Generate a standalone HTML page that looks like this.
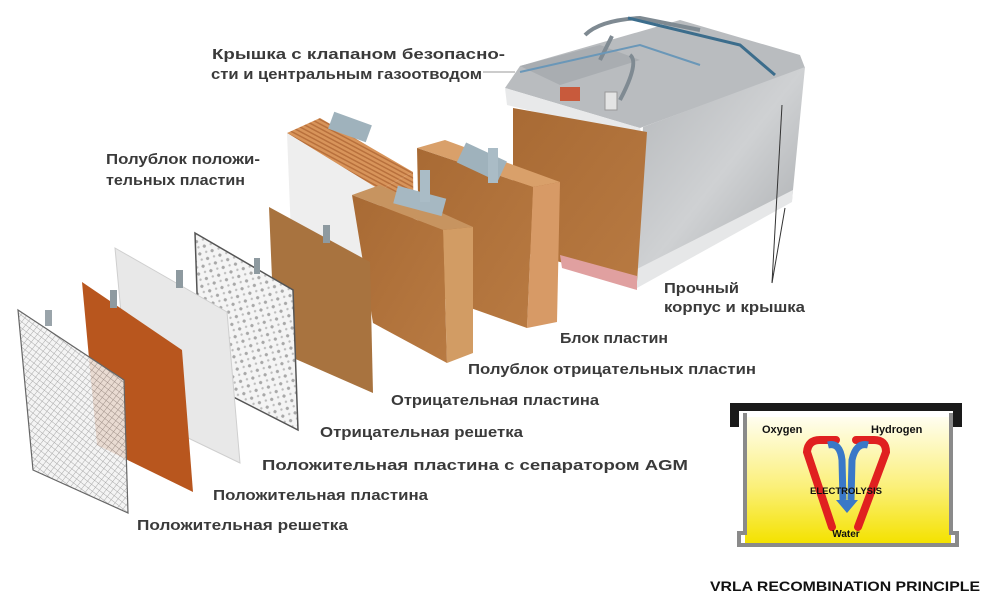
<!DOCTYPE html>
<html><head><meta charset="utf-8"><style>
html,body{margin:0;padding:0;background:#fff;}
svg{display:block;}
.t{font-family:"Liberation Sans","DejaVu Sans",sans-serif;font-weight:bold;font-size:15px;fill:#3a3a3a;}
</style></head><body>
<svg width="991" height="602" viewBox="0 0 991 602" xmlns="http://www.w3.org/2000/svg">
<defs>
<pattern id="grid" width="5" height="5" patternUnits="userSpaceOnUse" patternTransform="rotate(38)">
<rect width="5" height="5" fill="#f2f2f2"/><path d="M0 0H5M0 0V5" stroke="#9a9a9a" stroke-width="1"/>
</pattern>
<pattern id="dots" width="9" height="9" patternUnits="userSpaceOnUse" patternTransform="rotate(30)">
<rect width="9" height="9" fill="#f4f4f4"/><circle cx="3" cy="3" r="1.6" fill="#a8a8a8"/><circle cx="7.5" cy="7" r="1.2" fill="#bdbdbd"/>
</pattern>
<pattern id="stripe" width="4" height="4" patternUnits="userSpaceOnUse" patternTransform="rotate(-62)">
<rect width="4" height="4" fill="#d8945a"/><rect width="1.5" height="4" fill="#b8703c"/>
</pattern>
<linearGradient id="case" x1="0" y1="0" x2="1" y2="1">
<stop offset="0" stop-color="#b4b7ba"/><stop offset="0.5" stop-color="#cfd1d3"/><stop offset="1" stop-color="#a3a6a9"/>
</linearGradient>
<linearGradient id="brown" x1="0" y1="0" x2="1" y2="1">
<stop offset="0" stop-color="#a86a34"/><stop offset="1" stop-color="#b87a42"/>
</linearGradient>
<linearGradient id="yel" x1="0" y1="0" x2="0" y2="1">
<stop offset="0" stop-color="#fffef0"/><stop offset="0.55" stop-color="#fbf07a"/><stop offset="1" stop-color="#f4e200"/>
</linearGradient>
</defs>

<!-- battery case -->
<polygon points="505,88 520,66 680,20 800,55 805,68 640,128" fill="#b9bcbf"/>
<polygon points="520,66 600,45 640,60 560,85" fill="#a9adb1"/>
<polygon points="643,127 805,67 792,200 635,285" fill="url(#case)"/>
<polygon points="635,270 793,190 792,202 637,288" fill="#e6e7e8"/>
<polygon points="505,88 640,128 643,138 507,105" fill="#e8e9ea"/>
<polygon points="513,108 647,132 637,282 560,262 513,250" fill="url(#brown)"/>
<polygon points="560,255 637,276 637,290 562,268" fill="#e0a0a0"/>
<path d="M585,35 Q600,20 640,18 L700,30 M600,60 L612,36 M630,55 Q640,62 620,100" stroke="#7f8a92" stroke-width="4" fill="none"/>
<path d="M628,18 L740,45 L775,75" stroke="#3c6d8c" stroke-width="3" fill="none"/>
<path d="M520,72 L640,45 L700,65" stroke="#6a97b8" stroke-width="2" fill="none"/>
<rect x="560" y="87" width="20" height="14" fill="#c85a3c"/>
<rect x="605" y="92" width="12" height="18" fill="#e4e4e4" stroke="#999" stroke-width="1"/>
<line x1="772" y1="283" x2="782" y2="105" stroke="#333" stroke-width="1"/>
<line x1="772" y1="283" x2="785" y2="208" stroke="#333" stroke-width="1"/>
<line x1="483" y1="72" x2="515" y2="72" stroke="#9a9a9a" stroke-width="1"/>

<!-- block plates -->
<polygon points="417,148 445,140 560,182 533,187" fill="#d9a06a"/>
<polygon points="533,187 560,182 557,322 527,328" fill="#d79a66"/>
<polygon points="417,148 533,187 527,328 420,290" fill="url(#brown)"/>
<rect x="460" y="150" width="45" height="22" fill="#9fb2bc" transform="rotate(25 480 160)"/>
<rect x="488" y="148" width="10" height="35" fill="#aabcc6"/>

<!-- positive half block -->
<polygon points="287,133 320,118 413,172 380,190" fill="url(#stripe)"/>
<polygon points="380,190 413,172 415,300 383,320" fill="url(#stripe)"/>
<polygon points="287,133 380,190 383,320 292,260" fill="#eeeeee"/>
<rect x="330" y="118" width="40" height="18" fill="#9fb2bc" transform="rotate(20 350 127)"/>

<!-- negative half block -->
<polygon points="352,195 380,185 473,227 443,230" fill="#c79460"/>
<polygon points="443,230 473,227 473,353 447,363" fill="#d29c64"/>
<polygon points="352,195 443,230 447,363 373,323" fill="url(#brown)"/>
<rect x="395" y="192" width="50" height="18" fill="#a6b8c2" transform="rotate(15 420 200)"/>
<rect x="420" y="170" width="10" height="32" fill="#aabcc6"/>

<!-- negative plate -->
<polygon points="269,207 370,262 373,393 275,350" fill="#a8733f"/>
<rect x="323" y="225" width="7" height="18" fill="#8e9aa0"/>
<!-- negative grid -->
<polygon points="195,233 293,290 298,430 200,380" fill="url(#dots)" stroke="#555" stroke-width="1.5"/>
<rect x="254" y="258" width="6" height="16" fill="#8e9aa0"/>
<!-- AGM separator plate -->
<polygon points="115,248 227,312 240,463 130,410" fill="#e8e8e8" stroke="#cfcfcf"/>
<rect x="176" y="270" width="7" height="18" fill="#8e9aa0"/>
<!-- positive plate -->
<polygon points="82,282 182,350 193,492 97,445" fill="#b8561e"/>
<rect x="110" y="290" width="7" height="18" fill="#8e9aa0"/>
<!-- positive grid -->
<polygon points="18,310 124,380 128,513 33,470" fill="url(#grid)" stroke="#666" stroke-width="1.2" fill-opacity="0.85"/>
<rect x="45" y="310" width="7" height="16" fill="#9aa4aa"/>

<!-- labels -->
<text class="t" x="212" y="59" textLength="293" lengthAdjust="spacingAndGlyphs">Крышка с клапаном безопасно-</text>
<text class="t" x="211" y="79" textLength="271" lengthAdjust="spacingAndGlyphs">сти и центральным газоотводом</text>
<text class="t" x="106" y="164" textLength="154" lengthAdjust="spacingAndGlyphs">Полублок положи-</text>
<text class="t" x="106" y="185" textLength="139" lengthAdjust="spacingAndGlyphs">тельных пластин</text>
<text class="t" x="664" y="293" textLength="75" lengthAdjust="spacingAndGlyphs">Прочный</text>
<text class="t" x="664" y="312" textLength="141" lengthAdjust="spacingAndGlyphs">корпус и крышка</text>
<text class="t" x="560" y="343" textLength="108" lengthAdjust="spacingAndGlyphs">Блок пластин</text>
<text class="t" x="468" y="374" textLength="288" lengthAdjust="spacingAndGlyphs">Полублок отрицательных пластин</text>
<text class="t" x="391" y="405" textLength="208" lengthAdjust="spacingAndGlyphs">Отрицательная пластина</text>
<text class="t" x="320" y="437" textLength="203" lengthAdjust="spacingAndGlyphs">Отрицательная решетка</text>
<text class="t" x="262" y="470" textLength="426" lengthAdjust="spacingAndGlyphs">Положительная пластина с сепаратором AGM</text>
<text class="t" x="213" y="500" textLength="215" lengthAdjust="spacingAndGlyphs">Положительная пластина</text>
<text class="t" x="137" y="530" textLength="211" lengthAdjust="spacingAndGlyphs">Положительная решетка</text>

<!-- VRLA diagram -->
<rect x="745" y="417" width="206" height="126" fill="url(#yel)"/>
<path d="M745,413 V533 H739 V545 H957 V533 H951 V413" fill="none" stroke="#8a8a8a" stroke-width="4"/>
<path d="M730,403 H962 V427 H953 V411 H739 V427 H730 Z" fill="#1a1a1a"/>
<path d="M832,527 L807,452 Q808,440 820,440 L836,440" fill="none" stroke="#e02020" stroke-width="8" stroke-linecap="round"/>
<path d="M858,527 L886,452 Q886,440 874,440 L856,440" fill="none" stroke="#e02020" stroke-width="8" stroke-linecap="round"/>
<path d="M828,445 Q840,442 842,460 L843,500" fill="none" stroke="#3a78c8" stroke-width="7"/>
<path d="M868,445 Q856,442 852,460 L851,500" fill="none" stroke="#3a78c8" stroke-width="7"/>
<polygon points="836,500 858,500 847,513" fill="#3a78c8"/>
<text x="762" y="433" style="font-family:'Liberation Sans',sans-serif;font-weight:bold;font-size:11px;fill:#111">Oxygen</text>
<text x="871" y="433" style="font-family:'Liberation Sans',sans-serif;font-weight:bold;font-size:11px;fill:#111">Hydrogen</text>
<text x="846" y="494" text-anchor="middle" style="font-family:'Liberation Sans',sans-serif;font-weight:bold;font-size:9.5px;fill:#111">ELECTROLYSIS</text>
<text x="846" y="537" text-anchor="middle" style="font-family:'Liberation Sans',sans-serif;font-weight:bold;font-size:10px;fill:#111">Water</text>
<text x="710" y="591" textLength="270" lengthAdjust="spacingAndGlyphs" style="font-family:'Liberation Sans',sans-serif;font-weight:bold;font-size:14px;fill:#111">VRLA RECOMBINATION PRINCIPLE</text>
</svg>
</body></html>
